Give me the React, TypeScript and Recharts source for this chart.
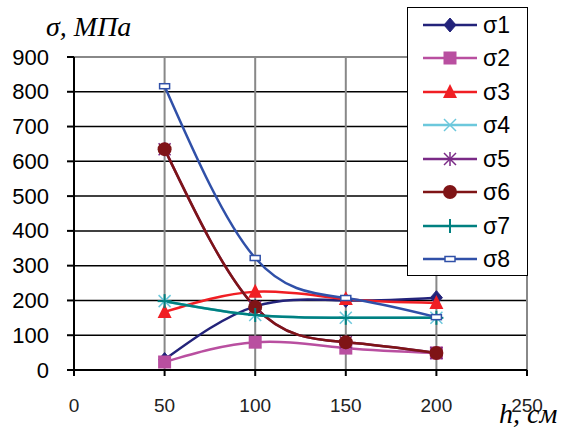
import React from 'react';
import { LineChart, Line, XAxis, YAxis, CartesianGrid, ReferenceLine, Legend } from 'recharts';

const heights = [50, 100, 150, 200];
const s1 = [30, 183, 200, 208];
const s2 = [23, 80, 63, 49];
const s3 = [167, 225, 204, 193];
const s4 = [198, 158, 150, 150];
const s5 = [635, 181, 80, 49];
const s6 = [635, 181, 80, 49];
const s7 = [198, 158, 150, 150];
const s8 = [816, 322, 207, 152];
const xTicks = [0, 50, 100, 150, 200, 250];
const yTicks = [0, 100, 200, 300, 400, 500, 600, 700, 800, 900];
const hGrid = [100, 200, 300, 400, 500, 600, 700, 800];

const seriesNames = ['σ1', 'σ2', 'σ3', 'σ4', 'σ5', 'σ6', 'σ7', 'σ8'];
const seriesValues = [s1, s2, s3, s4, s5, s6, s7, s8];
const seriesColors = ['#23237A', '#B94FA0', '#F01E23', '#6CC8DC', '#7A2A86', '#7F1416', '#008080', '#3050A8'];
const seriesShapes = ['diamond', 'square', 'triangle', 'x', 'star', 'circle', 'plus', 'rect'];

const SANS = "'Liberation Sans', Arial, Helvetica, sans-serif";
const SERIF = "'Liberation Serif', 'DejaVu Serif', 'Times New Roman', serif";

const data = heights.map((h, i) => {
  const row: any = { h };
  seriesNames.forEach((n, k) => { row[n] = seriesValues[k][i]; });
  return row;
});

function Marker({ shape, color, cx, cy }: { shape: string; color: string; cx: number; cy: number }) {
  switch (shape) {
    case 'diamond':
      return <polygon points={`${cx},${cy - 7} ${cx + 6},${cy} ${cx},${cy + 7} ${cx - 6},${cy}`} fill={color} stroke={color} />;
    case 'square':
      return <rect x={cx - 6.5} y={cy - 6.5} width={13} height={13} fill={color} />;
    case 'triangle':
      return <polygon points={`${cx},${cy - 8} ${cx + 7},${cy + 6} ${cx - 7},${cy + 6}`} fill={color} />;
    case 'x':
      return (
        <g stroke={color} strokeWidth={1.5}>
          <line x1={cx - 6} y1={cy - 6} x2={cx + 6} y2={cy + 6} />
          <line x1={cx - 6} y1={cy + 6} x2={cx + 6} y2={cy - 6} />
        </g>
      );
    case 'star':
      return (
        <g stroke={color} strokeWidth={1.5}>
          <line x1={cx - 6} y1={cy - 6} x2={cx + 6} y2={cy + 6} />
          <line x1={cx - 6} y1={cy + 6} x2={cx + 6} y2={cy - 6} />
          <line x1={cx} y1={cy - 7} x2={cx} y2={cy + 7} />
        </g>
      );
    case 'circle':
      return <circle cx={cx} cy={cy} r={7} fill={color} />;
    case 'plus':
      return (
        <g stroke={color} strokeWidth={2}>
          <line x1={cx} y1={cy - 7} x2={cx} y2={cy + 7} />
          <line x1={cx - 7} y1={cy} x2={cx + 7} y2={cy} />
        </g>
      );
    case 'rect':
    default:
      return <rect x={cx - 5} y={cy - 2.5} width={10} height={5} fill="#fff" stroke={color} strokeWidth={1.5} />;
  }
}

const makeDot = (shape: string, color: string) => (props: any) => {
  const { cx, cy, index } = props;
  return (
    <g key={`d-${shape}-${index}`}>
      <Marker shape={shape} color={color} cx={cx} cy={cy} />
    </g>
  );
};

const XTick = (props: any) => {
  const { x, y, payload } = props;
  return (
    <text x={x} y={y + 20} textAnchor="middle" dominantBaseline="hanging"
      style={{ fontFamily: SANS, fontSize: 19, fill: '#222' }}>{payload.value}</text>
  );
};

const YTick = (props: any) => {
  const { x, y, payload } = props;
  return (
    <text x={x - 16} y={y} textAnchor="end" dominantBaseline="central"
      style={{ fontFamily: SANS, fontSize: 22, fill: '#000' }}>{payload.value}</text>
  );
};

const LegendContent = () => (
  <div style={{ width: 121, height: 269, boxSizing: 'border-box', border: '1.5px solid #000', background: '#fff', paddingTop: 0 }}>
    {seriesNames.map((n, k) => (
      <div key={n} style={{ display: 'flex', alignItems: 'center', height: 33.5 }}>
        <svg width={72} height={20} style={{ display: 'block' }}>
          <line x1={15} y1={10} x2={69} y2={10} stroke={seriesColors[k]} strokeWidth={2.5} />
          <Marker shape={seriesShapes[k]} color={seriesColors[k]} cx={42} cy={10} />
        </svg>
        <span style={{ fontFamily: SANS, fontSize: 23, color: '#000', marginLeft: 3, lineHeight: '24px' }}>{n}</span>
      </div>
    ))}
  </div>
);

export default function App() {
  return (
    <div style={{ position: 'absolute', left: 0, top: 0, width: 566, height: 434, background: '#fff' }}>
      <LineChart width={566} height={434} data={data} margin={{ top: 57, right: 39, bottom: 30, left: 0 }}>
        <CartesianGrid vertical={false} horizontalValues={hGrid} stroke="#000" strokeWidth={1.5} />
        <CartesianGrid horizontal={false} verticalValues={[50, 100, 150, 200]} stroke="#888" strokeWidth={2} />
        <ReferenceLine y={900} stroke="#888" strokeWidth={2} />
        <ReferenceLine x={250} stroke="#888" strokeWidth={2} />
        <XAxis
          dataKey="h"
          type="number"
          domain={[0, 250]}
          ticks={xTicks}
          interval={0}
          height={34}
          stroke="#000"
          strokeWidth={2}
          tickSize={6}
          tick={XTick}
        />
        <YAxis
          type="number"
          domain={[0, 900]}
          ticks={yTicks}
          width={74}
          stroke="#000"
          strokeWidth={2}
          tickSize={7}
          interval={0}
          tick={YTick}
        />
        <Legend layout="vertical" align="center" verticalAlign="middle" content={LegendContent}
          wrapperStyle={{ left: 407, top: 7, width: 121, height: 269 }} />
        {seriesNames.map((n, k) => (
          <Line
            key={n}
            dataKey={n}
            type="natural"
            stroke={seriesColors[k]}
            strokeWidth={2.5}
            dot={makeDot(seriesShapes[k], seriesColors[k])}
            activeDot={false}
            isAnimationActive={false}
          />
        ))}
      </LineChart>
      <div style={{ position: 'absolute', left: 46, top: 11, fontFamily: SERIF, fontStyle: 'italic', fontSize: 28, color: '#000', whiteSpace: 'nowrap' }}>σ, МПа</div>
      <div style={{ position: 'absolute', left: 499, top: 398, fontFamily: SERIF, fontStyle: 'italic', fontSize: 28, color: '#000', whiteSpace: 'nowrap' }}>h, см</div>
    </div>
  );
}
